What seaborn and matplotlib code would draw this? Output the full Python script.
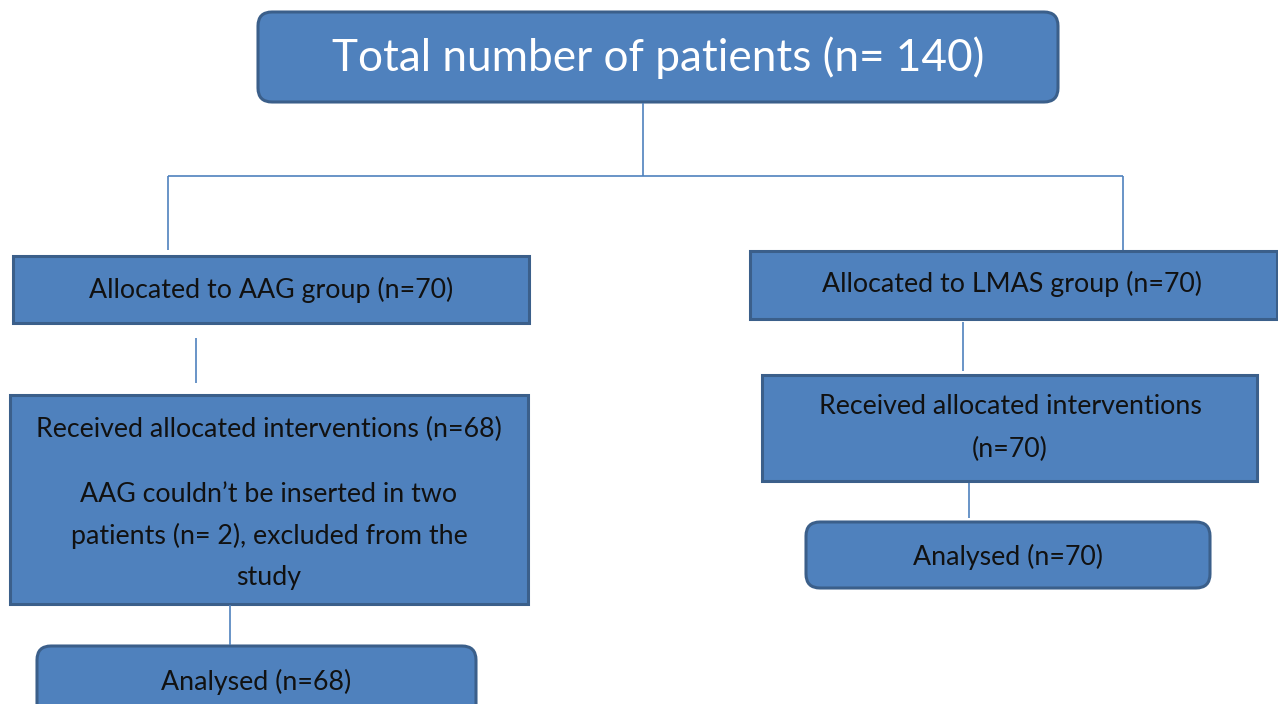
import matplotlib
matplotlib.use("Agg")
import matplotlib.pyplot as plt
from matplotlib.patches import FancyBboxPatch
import seaborn as sns

sns.set_theme(style="white")
plt.rcParams['font.family'] = ['Lato', 'DejaVu Sans']

# ---- data ----
total_n = [140]
group_names = ["AAG", "LMAS"]
allocated_n = [70, 70]
received_n = [68, 70]
excluded_n = [2]
analysed_n = [68, 70]

FILL = "#4F81BD"
EDGE = "#3B5F8A"
LINE = "#4F81BD"

fig = plt.figure(figsize=(12.78, 7.04), dpi=100)
ax = fig.add_axes([0, 0, 1, 1])
ax.set_xlim(0, 1278)
ax.set_ylim(704, 0)
ax.axis("off")


def box(x0, y0, x1, y1, rounded=False):
    if rounded:
        style = "round,pad=0,rounding_size=14"
    else:
        style = "square,pad=0"
    p = FancyBboxPatch((x0, y0), x1 - x0, y1 - y0, boxstyle=style,
                       facecolor=FILL, edgecolor=EDGE, linewidth=2.2,
                       clip_on=False)
    ax.add_patch(p)


def line(xs, ys):
    ax.plot(xs, ys, color=LINE, lw=1.2, solid_capstyle="butt")


def txt(x, y, s, size=19.3, color="#111111"):
    ax.text(x, y, s, ha="center", va="center", fontsize=size, color=color)


# top box
box(258, 12, 1058, 102, rounded=True)
txt(658, 58, f"Total number of patients (n= {total_n[0]})", size=31.8, color="white")

# connectors
line([643, 643], [103, 176])
line([168, 1123], [176, 176])
line([168, 168], [176, 250])
line([1123, 1123], [176, 250])

# allocated boxes
box(13, 256, 529, 323)
txt(271, 290, f"Allocated to {group_names[0]} group (n={allocated_n[0]})")
box(750, 251, 1277, 319)
txt(1012, 284, f"Allocated to {group_names[1]} group (n={allocated_n[1]})")

line([196, 196], [338, 383])
line([963, 963], [322, 371])

# received boxes
box(10, 395, 528, 604)
txt(269, 429, f"Received allocated interventions (n={received_n[0]})")
txt(269, 494, f"{group_names[0]} couldn\u2019t be inserted in two")
txt(269, 536, f"patients (n= {excluded_n[0]}), excluded from the")
txt(269, 577, "study")

box(762, 375, 1257, 481)
txt(1010, 406, "Received allocated interventions")
txt(1010, 449, f"(n={received_n[1]})")

line([969, 969], [483, 518])
line([230, 230], [605, 645])

# analysed boxes
box(806, 522, 1210, 588, rounded=True)
txt(1008, 557, f"Analysed (n={analysed_n[1]})")
box(37, 646, 476, 730, rounded=True)
txt(256, 682, f"Analysed (n={analysed_n[0]})")

fig.savefig("out.png", dpi=100)
